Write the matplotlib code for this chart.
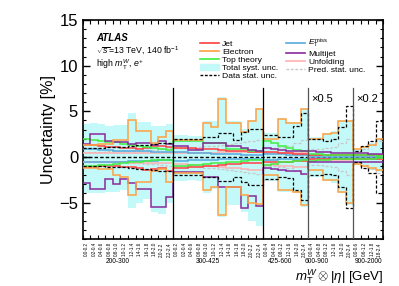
import numpy as np
import matplotlib.pyplot as plt
from matplotlib.lines import Line2D
from matplotlib.patches import Patch

plt.rcParams['font.family'] = ['Liberation Sans', 'DejaVu Sans']
plt.rcParams['mathtext.fontset'] = 'custom'
plt.rcParams['mathtext.rm'] = 'Liberation Sans'
plt.rcParams['mathtext.it'] = 'Liberation Sans:italic'

# mT bins and |eta| bin edges in each
MT_GROUPS = ["200-300", "300-425", "425-600", "600-900", "900-2000"]
ETA_EDGES = [
    [0.0, 0.2, 0.4, 0.6, 0.8, 1.0, 1.2, 1.4, 1.6, 1.8, 2.0, 2.2, 2.4],
    [0.0, 0.2, 0.4, 0.6, 0.8, 1.0, 1.2, 1.4, 1.6, 1.8, 2.0, 2.2, 2.4],
    [0.0, 0.4, 0.8, 1.2, 1.6, 2.0, 2.4],
    [0.0, 0.4, 0.8, 1.2, 1.6, 2.0, 2.4],
    [0.0, 0.6, 1.2, 1.8, 2.4],
]
SCALE_TEXT = ["", "", "", "×0.5", "×0.2"]

# uncertainties in % (up / down), 40 bins
total_up = [3.6, 3.7, 3.6, 3.4, 3.5, 3.5, 4.8, 3.8, 3.8, 3.4, 3.4, 3.6,
            2.4, 2.4, 2.3, 2.3, 3.9, 3.9, 6.6, 3.9, 3.9, 3.1, 4.0, 5.4,
            2.6, 2.6, 4.3, 3.8, 3.8, 5.4,
            2.2, 2.2, 2.6, 2.8, 4.0, 4.0,
            0.9, 1.2, 1.5, 2.1]
total_dn = [-3.9, -4.0, -4.0, -3.8, -3.8, -3.6, -5.6, -5.0, -4.6, -6.0, -6.2, -5.0,
            -2.6, -2.6, -2.5, -2.6, -3.9, -3.5, -6.6, -5.3, -5.3, -6.0, -7.0, -7.6,
            -2.6, -2.6, -3.8, -3.8, -4.0, -5.5,
            -2.2, -2.2, -2.6, -2.8, -4.0, -5.3,
            -0.9, -1.1, -1.4, -1.6]
elec_up = [1.3, 1.3, 1.4, 1.4, 1.9, 1.9, 4.1, 2.8, 2.8, 1.5, 2.2, 2.8,
           1.9, 1.9, 1.9, 1.9, 3.7, 3.3, 6.3, 3.7, 3.7, 2.7, 3.9, 5.3,
           2.0, 2.0, 4.2, 3.7, 3.7, 5.3,
           2.0, 2.0, 2.5, 2.6, 3.9, 3.9,
           0.9, 1.1, 1.3, 2.0]
elec_dn = [-1.2, -1.2, -1.3, -1.3, -2.0, -2.2, -4.2, -2.7, -2.7, -1.5, -1.3, -2.7,
           -1.8, -1.8, -1.8, -1.8, -3.6, -3.3, -6.4, -3.3, -3.3, -4.2, -5.0, -5.2,
           -2.0, -2.0, -3.6, -3.6, -3.8, -5.3,
           -1.4, -1.4, -2.5, -2.5, -3.8, -5.1,
           -0.8, -1.0, -1.2, -1.4]
mj_up = [1.4, 2.5, 2.5, 1.7, 1.6, 1.6, 1.4, 1.5, 1.5, 1.3, 1.7, 1.4,
         1.2, 1.2, 0.8, 0.8, 1.5, 1.5, 1.5, 1.2, 1.2, 1.0, 0.8, 0.6,
         1.0, 0.9, 0.8, 0.7, 0.7, 0.6,
         0.6, 0.5, 0.5, 0.4, 0.4, 0.4,
         0.4, 0.4, 0.3, 0.3]
mj_dn = [-2.9, -3.5, -3.5, -2.4, -3.0, -2.4, -2.9, -3.5, -3.5, -5.5, -5.5, -4.4,
         -1.6, -1.6, -1.6, -1.6, -2.2, -2.2, -3.3, -3.3, -3.3, -5.6, -4.3, -5.4,
         -1.2, -1.3, -1.4, -1.5, -1.5, -1.9,
         -0.6, -0.6, -0.6, -0.6, -0.6, -0.6,
         -0.5, -0.5, -0.5, -0.5]
top_up = [2.0, 1.9, 1.8, 1.6, 1.6, 1.4, 1.3, 1.2, 1.1, 1.0, 0.9, 0.8,
          1.8, 1.8, 1.7, 1.7, 1.5, 1.5, 1.5, 0.9, 0.9, 0.9, 0.6, 0.6,
          1.8, 1.5, 1.2, 1.0, 0.8, 0.7,
          0.3, 0.3, 0.2, 0.2, 0.2, 0.2,
          0.2, 0.2, 0.2, 0.1]
top_dn = [-1.0, -1.0, -0.9, -0.9, -0.8, -0.7, -0.6, -0.5, -0.4, -0.3, -0.3, -0.3,
          -1.0, -1.0, -0.9, -0.9, -0.8, -0.7, -0.7, -0.5, -0.5, -0.4, -0.3, -0.3,
          -0.9, -0.8, -0.6, -0.5, -0.4, -0.3,
          -0.4, -0.3, -0.3, -0.2, -0.2, -0.2,
          -0.2, -0.2, -0.2, -0.1]
jet_up = [1.3, 1.3, 1.2, 1.1, 1.1, 1.0, 1.0, 0.9, 1.0, 1.2, 1.2, 1.1,
          1.0, 1.0, 1.0, 0.9, 0.9, 0.9, 0.8, 0.7, 0.6, 0.6, 0.5, 0.5,
          0.5, 0.5, 0.4, 0.4, 0.3, 0.3,
          0.2, 0.2, 0.2, 0.2, 0.2, 0.2,
          0.2, 0.2, 0.2, 0.2]
jet_dn = [-1.1, -1.1, -1.0, -1.0, -1.0, -1.1, -1.1, -1.2, -1.4, -1.3, -1.2, -1.5,
          -1.2, -1.2, -1.1, -1.1, -1.0, -1.0, -0.9, -0.8, -0.8, -0.7, -0.7, -0.7,
          -0.6, -0.6, -0.5, -0.5, -0.4, -0.4,
          -0.2, -0.2, -0.2, -0.2, -0.2, -0.2,
          -0.2, -0.2, -0.2, -0.2]
met_up = [0.9, 0.9, 0.8, 0.8, 0.7, 0.7, 0.6, 0.6, 0.6, 0.5, 0.5, 0.5,
          0.5, 0.5, 0.4, 0.4, 0.4, 0.3, 0.3, 0.3, 0.3, 0.2, 0.2, 0.2,
          0.3, 0.3, 0.3, 0.2, 0.2, 0.2,
          0.1, 0.1, 0.1, 0.1, 0.1, 0.1,
          0.1, 0.1, 0.1, 0.1]
met_dn = [-0.6, -0.6, -0.6, -0.5, -0.5, -0.5, -0.4, -0.4, -0.4, -0.4, -0.3, -0.3,
          -0.4, -0.4, -0.3, -0.3, -0.3, -0.3, -0.2, -0.2, -0.2, -0.2, -0.2, -0.2,
          -0.3, -0.3, -0.2, -0.2, -0.2, -0.2,
          -0.1, -0.1, -0.1, -0.1, -0.1, -0.1,
          -0.1, -0.1, -0.1, -0.1]
unf_up = [0.4, 0.4, 0.4, 0.4, 0.4, 0.4, 0.4, 0.4, 0.4, 0.4, 0.4, 0.4,
          0.4, 0.4, 0.4, 0.4, 0.4, 0.4, 0.5, 0.5, 0.5, 0.5, 0.5, 0.5,
          0.4, 0.4, 0.4, 0.4, 0.4, 0.4,
          0.2, 0.2, 0.2, 0.2, 0.2, 0.2,
          0.1, 0.1, 0.1, 0.1]
unf_dn = [-0.6, -0.6, -0.6, -0.6, -0.6, -0.6, -0.7, -0.7, -0.7, -0.7, -0.7, -0.7,
          -0.8, -0.8, -0.9, -0.9, -1.0, -1.0, -1.1, -1.2, -1.2, -1.3, -1.4, -1.4,
          -0.9, -0.9, -1.0, -1.0, -1.1, -1.1,
          -0.3, -0.3, -0.3, -0.3, -0.3, -0.3,
          -0.2, -0.2, -0.2, -0.2]
data_up = [1.0, 1.0, 1.0, 1.1, 1.1, 1.1, 1.2, 1.3, 1.3, 1.4, 1.5, 1.5,
           2.0, 2.0, 2.0, 2.0, 2.2, 2.2, 2.6, 2.6, 1.9, 2.7, 3.1, 3.1,
           2.4, 2.4, 2.2, 2.2, 3.4, 4.8,
           2.0, 2.0, 1.8, 2.0, 3.3, 5.6,
           0.7, 1.2, 1.8, 3.9]
data_dn = [-1.0, -1.0, -1.0, -1.1, -1.1, -1.1, -1.2, -1.3, -1.3, -1.4, -1.5, -1.5,
           -2.0, -2.0, -2.0, -2.0, -2.2, -2.2, -2.6, -2.6, -2.2, -2.7, -3.1, -3.1,
           -2.4, -2.4, -2.2, -2.3, -3.6, -4.7,
           -2.0, -2.0, -1.9, -2.0, -3.3, -5.6,
           -0.6, -1.2, -1.8, -4.0]
pred_up = [0.5, 0.5, 0.5, 0.6, 0.6, 0.6, 0.7, 0.7, 0.8, 0.8, 0.9, 1.0,
           1.0, 1.0, 1.0, 1.1, 1.2, 1.2, 1.3, 1.4, 1.5, 1.6, 1.8, 1.9,
           1.0, 1.0, 1.1, 1.2, 1.5, 1.9,
           0.9, 0.9, 1.0, 1.1, 1.5, 2.0,
           0.6, 0.9, 1.3, 1.8]
pred_dn = [-v for v in pred_up]

C_JET = '#ff4040'
C_ELEC = '#ffa040'
C_TOP = '#40ee40'
C_FILL = '#c4f9f9'
C_MET = '#55aadd'
C_MJ = '#8a2a9c'
C_UNF = '#ffb0b0'
C_PRED = '#c8c8c8'

n_bins = sum(len(e) - 1 for e in ETA_EDGES)
edges = np.arange(n_bins + 1)

fig = plt.figure(figsize=(3.99, 2.86), dpi=100)
ax = fig.add_axes([0.208, 0.164, 0.752, 0.766])

ax.stairs(total_up, edges, baseline=total_dn, fill=True, color=C_FILL, lw=0, zorder=1)
ax.axhline(0, color='black', ls=(0, (2.5, 1.5)), lw=1.0, zorder=2)

series = [
    (pred_up, pred_dn, C_PRED, (0, (2.5, 1.5)), 0.9),
    (unf_up, unf_dn, C_UNF, '-', 1.1),
    (met_up, met_dn, C_MET, '-', 1.1),
    (jet_up, jet_dn, C_JET, '-', 1.1),
    (top_up, top_dn, C_TOP, '-', 1.1),
    (mj_up, mj_dn, C_MJ, '-', 1.1),
    (elec_up, elec_dn, C_ELEC, '-', 1.1),
    (data_up, data_dn, 'black', (0, (2.5, 1.5)), 0.9),
]
for up, dn, col, ls, lw in series:
    ax.stairs(up, edges, baseline=None, color=col, ls=ls, lw=lw, zorder=3)
    ax.stairs(dn, edges, baseline=None, color=col, ls=ls, lw=lw, zorder=3)

# group separators and labels
start = 0
group_label_pos = [4.6, 16.7, 26.3, 31.2, 38.1]
bin_labels = []
for g, eta in enumerate(ETA_EDGES):
    nb = len(eta) - 1
    for k in range(nb):
        bin_labels.append(f"{eta[k]:.1f}-{eta[k+1]:.1f}")
    if start > 0:
        sep_col = 'black' if g < 3 else '#555555'
        ax.plot([start, start], [-9, 7.5], color=sep_col, lw=0.9, zorder=4)
    if SCALE_TEXT[g]:
        ax.text(start + 0.4, 6.3, SCALE_TEXT[g], fontsize=8, va='center', ha='left')
    ax.text(group_label_pos[g], -11.5, MT_GROUPS[g], fontsize=4.8,
            ha='center', va='center', clip_on=False)
    start += nb

ax.set_xlim(0, n_bins)
ax.set_ylim(-9, 15)
ax.set_yticks([-5, 0, 5, 10, 15])
ax.set_yticks(np.arange(-9, 16, 1), minor=True)
ax.set_xticks(edges)
ax.set_xticklabels([])
ax.set_xticks(edges[:-1] + 0.5, minor=True)
ax.set_xticklabels(bin_labels, minor=True, rotation=90, fontsize=3.3)
ax.tick_params(axis='y', which='major', direction='in', length=5, width=1, right=True, labelsize=12)
ax.tick_params(axis='y', which='minor', direction='in', length=2.5, width=0.8, right=True)
ax.tick_params(axis='x', which='major', direction='in', length=3, width=0.8, top=True)
ax.tick_params(axis='x', which='minor', length=0, pad=2.2)
for s in ax.spines.values():
    s.set_linewidth(1.2)

ax.set_ylabel('Uncertainty [%]', fontsize=11.5, labelpad=2)
fig.text(0.96, 0.0, r'$m_{\mathrm{T}}^{W} \otimes |\eta|$ [GeV]', fontsize=9.5, ha='right', va='bottom')

ax.text(0.045, 0.92, 'ATLAS', transform=ax.transAxes, fontsize=7, fontweight='bold',
        fontstyle='italic', va='center')
ax.text(0.045, 0.86, r'$\sqrt{s}$=13 TeV, 140 fb$^{-1}$', transform=ax.transAxes,
        fontsize=6.3, va='center')
ax.text(0.045, 0.795, r'high $m_{\mathrm{T}}^{W}$, $e^{+}$', transform=ax.transAxes,
        fontsize=6.3, va='center')

handles = [
    Line2D([], [], color=C_JET, lw=1.2),
    Line2D([], [], color=C_ELEC, lw=1.2),
    Line2D([], [], color=C_TOP, lw=1.2),
    Patch(color=C_FILL),
    Line2D([], [], color='black', lw=1, ls=(0, (2, 1.2))),
    Line2D([], [], color=C_MET, lw=1.2),
    Line2D([], [], color=C_MJ, lw=1.2),
    Line2D([], [], color=C_UNF, lw=1.2),
    Line2D([], [], color=C_PRED, lw=1, ls=(0, (2, 1.2))),
]
labels = ['Jet', 'Electron', 'Top theory', 'Total syst. unc.', 'Data stat. unc.',
          r'$E_{\mathrm{T}}^{\mathrm{miss}}$', 'Multijet', 'Unfolding', 'Pred. stat. unc.']
ax.legend(handles, labels, ncol=2, frameon=False, fontsize=6.1,
          loc='upper left', bbox_to_anchor=(0.385, 0.93), handlelength=2.2,
          handletextpad=0.4, labelspacing=0.0, columnspacing=0.9, borderaxespad=0,
          borderpad=0.2)

fig.savefig('out.png', dpi=100)
